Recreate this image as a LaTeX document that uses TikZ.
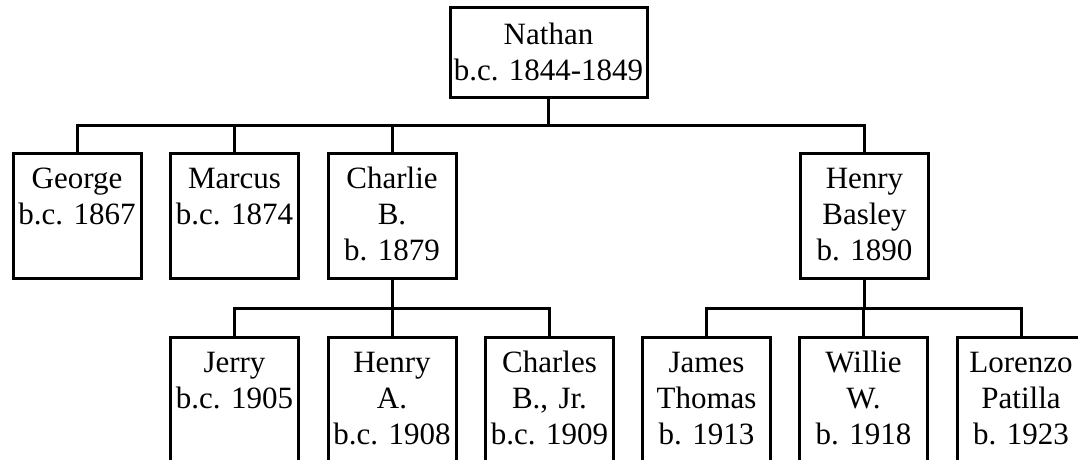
\documentclass[tikz,border=0pt]{standalone}
\usepackage{fontspec}
\setmainfont{Liberation Serif}
\usetikzlibrary{positioning}
\frenchspacing
\tikzset{
	person/.style={draw, line width=3pt, inner sep=0pt, align=center, text width=128pt, text height=35pt, text depth=90pt, font=\fontsize{31}{36}\selectfont},
	link/.style={line width=3pt}
}

\begin{document}
\begin{tikzpicture}[x=1pt, y=-1pt]
			%%%%% START %%%%%
			
			\useasboundingbox (0, 0) rectangle (1078, 460);
			\clip (0, 0) rectangle (1078, 460);
			
			\node[person, text width=197pt, text height=37pt, text depth=52pt] (nathan) at (548.5, 52.5) {Nathan\\b.c. 1844-1849};
			
			\node[person] (george) at (77, 215.5) {George\\b.c. 1867};
			\node[person] (marcus) at (234.5, 215.5) {Marcus\\b.c. 1874};
			\node[person] (charlie) at (392, 215.5) {Charlie\\B.\\b. 1879};
			\node[person] (henryb) at (864.5, 215.5) {Henry\\Basley\\b. 1890};
			
			\node[person] (jerry) at (234.5, 399.5) {Jerry\\b.c. 1905};
			\node[person] (henrya) at (392, 399.5) {Henry\\A.\\b.c. 1908};
			\node[person] (charles) at (549.5, 399.5) {Charles\\B., Jr.\\b.c. 1909};
			\node[person] (james) at (706.5, 399.5) {James\\Thomas\\b. 1913};
			\node[person] (willie) at (863.5, 399.5) {Willie\\W.\\b. 1918};
			\node[person] (lorenzo) at (1021, 399.5) {Lorenzo\\Patilla\\b. 1923};
			
			\coordinate (topbus) at (548.5, 125);
			\coordinate (charliebus) at (392, 308);
			\coordinate (henrybus) at (864.5, 308);
			
			\draw[link] (nathan.south) -- (topbus);
			\draw[link] (george.north) -- (george.north |- topbus) -- (henryb.north |- topbus) -- (henryb.north);
			\draw[link] (marcus.north) -- (marcus.north |- topbus);
			\draw[link] (charlie.north) -- (charlie.north |- topbus);
			
			\draw[link] (charlie.south) -- (charliebus);
			\draw[link] (jerry.north) -- (jerry.north |- charliebus) -- (charles.north |- charliebus) -- (charles.north);
			\draw[link] (henrya.north) -- (henrya.north |- charliebus);
			
			\draw[link] (henryb.south) -- (henrybus);
			\draw[link] (james.north) -- (james.north |- henrybus) -- (lorenzo.north |- henrybus) -- (lorenzo.north);
			\draw[link] (willie.north) -- (willie.north |- henrybus);
			
			%%%%% END %%%%%
		\end{tikzpicture}
\end{document}
